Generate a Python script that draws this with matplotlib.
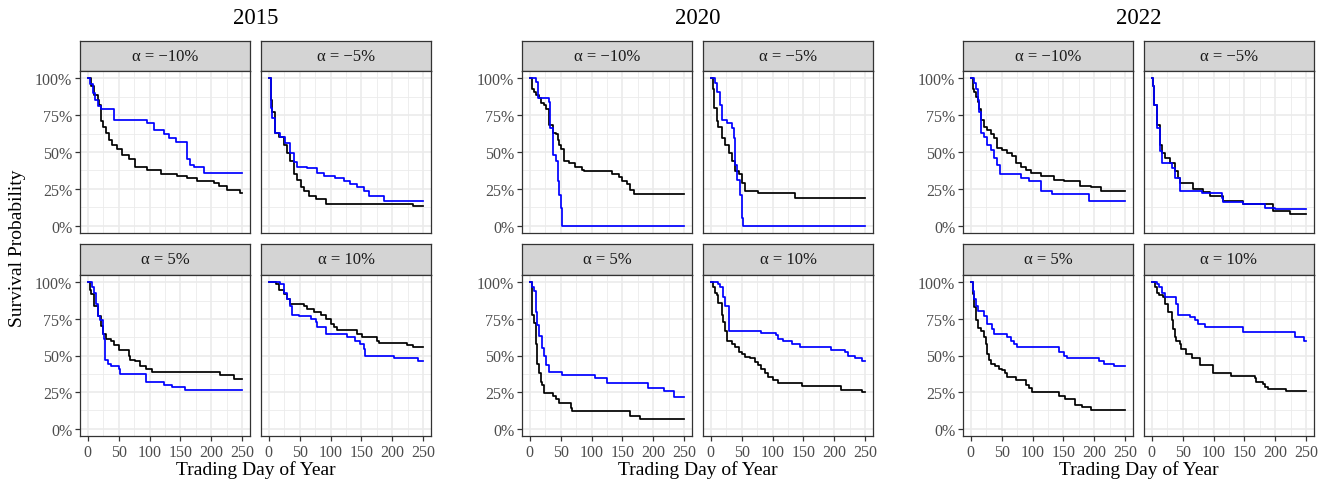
import matplotlib
matplotlib.use("Agg")
import matplotlib.pyplot as plt
from matplotlib.ticker import FixedLocator

plt.rcParams['font.family'] = ['Liberation Serif', 'DejaVu Serif']

# ---------------- data ----------------
years = ["2015", "2020", "2022"]
alpha_labels = ["α = −10%", "α = −5%", "α = 5%", "α = 10%"]
x_ticks = [0, 50, 100, 150, 200, 250]
y_ticks = [0, 25, 50, 75, 100]
y_tick_labels = ["0%", "25%", "50%", "75%", "100%"]

# (trading day, survival %) step points; black and blue series
s2015_m10_black = [(1,100),(6,95),(10,89),(16,85),(18,82),(21,71),(24,67),(29,63),(34,58),(40,55),(48,52),(56,48),(67,45),(77,40),(96,38),(118,35),(145,33.5),(161,32.5),(177,30),(204,29),(212,27),(225,24),(247,22),(250,22)]
s2015_m10_blue = [(1,100),(4,96),(8,90),(12,85),(17,81),(21,79),(42,72),(96,70),(107,65),(123,62),(131,59.5),(142,57),(161,45),(166,41),(172,40),(188,36),(250,36)]
s2015_m5_black = [(1,100),(3,85),(5,77),(10,63),(17,60),(25,55),(30,49),(34,44),(41,35),(46,31),(52,26),(57,23.5),(65,20),(76,18),(92,15),(233,13),(250,13)]
s2015_m5_blue = [(1,100),(3,80),(6,73),(10,63),(19,60),(27,56),(35,49),(41,43),(46,40),(62,39),(78,36),(89,33.5),(108,32.5),(121,30),(132,28),(143,26),(154,23.5),(162,20),(186,16.5),(250,16.5)]
s2015_p5_black = [(1,100),(3,95),(5,92),(10,84),(16,77),(21,70),(24,65),(29,61.5),(37,60),(42,57),(51,53.5),(67,50),(69,47),(77,46),(85,43),(94,41),(104,39),(214,37),(236,34),(250,34)]
s2015_p5_blue = [(1,100),(7,97),(10,93),(14,85),(16,77),(20,74),(24,65),(26,61.5),(28,47),(32,44.5),(37,43),(51,41),(53,37.5),(94,32),(123,30),(137,28.5),(158,26.5),(250,26.5)]
s2015_p10_black = [(1,100),(11,99),(17,95),(25,92),(30,88.5),(35,85.5),(57,84),(62,82),(73,80),(84,78),(92,75),(100,71.5),(105,69.5),(111,67.5),(143,65),(151,62.5),(175,60),(178,58.5),(224,57),(234,55.5),(250,55.5)]
s2015_p10_blue = [(1,100),(19,99),(25,93),(30,88.5),(35,84),(38,78),(49,77),(68,75),(76,73),(78,69.5),(92,65),(127,62.5),(140,60),(148,58),(154,54.7),(156,49.5),(202,48),(242,46.5),(250,46.5)]

s2020_m10_black = [(1,100),(4,93),(7,91),(10,89),(15,86.5),(18,83),(23,82),(26,79),(31,68.5),(37,63),(42,62),(45,58),(47,55),(50,52),(55,44),(63,42.5),(74,40),(85,38),(88,37),(133,35),(144,33),(149,30),(158,28),(163,24.5),(168,21.5),(250,21.5)]
s2020_m10_blue = [(1,100),(10,97.5),(13,87),(31,84),(33,66),(38,48),(42,44),(45,30),(47,21),(50,12),(53,0),(250,0)]
s2020_m5_black = [(1,100),(3,93),(5,80),(10,71),(12,67),(18,59.5),(23,55),(29,49),(34,44),(39,37),(45,35),(50,29),(55,23.5),(77,22),(136,19),(250,19)]
s2020_m5_blue = [(1,100),(7,97),(10,91),(15,82),(18,72),(26,70),(34,66),(37,59.5),(39,41.5),(42,31),(47,21),(50,5),(53,0),(250,0)]
s2020_p5_black = [(1,100),(3,92),(4,78),(7,72),(10,58),(12,44.5),(15,38),(18,32),(20,30),(23,24.5),(37,22),(42,20),(47,17.5),(66,14),(69,12),(163,8.5),(179,6.3),(250,6.3)]
s2020_p5_blue = [(1,100),(4,97),(7,94),(10,79.5),(12,70.5),(15,63),(20,55),(23,50),(26,43.5),(31,39),(53,37),(106,34.5),(125,31),(192,28),(217,25.5),(233,21.5),(250,21.5)]
s2020_p10_black = [(1,100),(3,96.5),(7,93),(10,91),(12,86),(18,78),(20,73),(23,67),(27,60),(34,58),(39,56),(45,52.5),(50,51),(55,49),(63,48),(72,45.7),(77,43.5),(82,40.5),(88,38),(93,35),(101,33.3),(109,31),(147,29),(211,26.5),(244,25),(250,25)]
s2020_p10_blue = [(1,100),(12,99),(15,96.5),(20,90),(23,84),(29,67),(82,65.5),(106,64),(109,61.5),(117,60),(131,58),(144,56),(195,53.5),(217,52.5),(222,50),(233,48),(244,46.5),(250,46.5)]

s2022_m10_black = [(1,100),(3,93),(5,91),(8,87.5),(11,84),(13,79),(16,72),(22,67),(27,65),(32,62),(38,59.5),(43,53),(51,51.5),(59,49),(67,47),(73,42.5),(81,40),(89,38),(97,36),(113,33.5),(134,31),(151,30),(177,27),(194,26),(210,23.5),(250,23.5)]
s2022_m10_blue = [(1,100),(5,97),(8,93),(11,85),(13,77.5),(16,63),(22,60.5),(27,55),(32,51.5),(38,46),(43,41.5),(48,35),(81,32.5),(94,30),(113,23.5),(132,21.5),(191,16.5),(250,16.5)]
s2022_m5_black = [(1,100),(2,95),(4,82),(8,68.5),(13,55),(17,49),(22,46),(30,42.5),(38,37),(43,32.5),(46,29),(67,25),(83,23),(94,20),(116,16.7),(148,15),(194,14.4),(196,10),(223,7.7),(250,7.7)]
s2022_m5_blue = [(1,100),(2,95),(4,82),(8,66),(13,50.5),(16,42.5),(32,39),(38,32.5),(46,23.5),(81,22),(113,19),(116,16),(148,15),(183,12),(199,11),(250,11)]
s2022_p5_black = [(1,100),(4,92),(6,83),(8,74),(11,69),(16,67),(22,62.5),(24,58),(27,51),(30,47),(32,44.5),(40,43),(46,41),(51,40),(56,38),(59,35.5),(73,33.3),(89,30),(94,28),(99,25),(142,22),(153,20.3),(169,16.5),(180,15),(194,12.5),(250,12.5)]
s2022_p5_blue = [(1,100),(4,94),(6,88.5),(8,84),(11,80.5),(22,77),(27,71.5),(35,68),(38,65),(59,62.5),(65,60),(70,58),(75,55.5),(142,52.5),(151,50),(156,48.5),(207,46.5),(215,44.5),(231,43),(250,43)]
s2022_p10_black = [(1,100),(5,96.5),(8,93),(11,91),(19,90),(22,85),(27,79.5),(32,74),(35,68),(38,62.5),(40,60),(46,58),(48,54.7),(56,51.3),(65,48),(78,43.5),(99,38),(129,36),(167,34.5),(169,32),(180,30.5),(183,28.5),(188,27),(218,25.5),(250,25.5)]
s2022_p10_blue = [(1,100),(8,99),(11,96.5),(16,93),(22,90),(40,85),(43,78),(62,76),(70,74),(75,71.5),(86,69.5),(148,66),(231,62.5),(247,60),(250,60)]

panels = {
    "2015": [(s2015_m10_black, s2015_m10_blue), (s2015_m5_black, s2015_m5_blue),
             (s2015_p5_black, s2015_p5_blue), (s2015_p10_black, s2015_p10_blue)],
    "2020": [(s2020_m10_black, s2020_m10_blue), (s2020_m5_black, s2020_m5_blue),
             (s2020_p5_black, s2020_p5_blue), (s2020_p10_black, s2020_p10_blue)],
    "2022": [(s2022_m10_black, s2022_m10_blue), (s2022_m5_black, s2022_m5_blue),
             (s2022_p5_black, s2022_p5_blue), (s2022_p10_black, s2022_p10_blue)],
}

# ---------------- layout ----------------
W, H = 1325, 485
fig = plt.figure(figsize=(W / 100, H / 100), dpi=100)
fig.patch.set_facecolor("white")

def px_axes(x0, y0, x1, y1):
    return fig.add_axes([x0 / W, 1 - y1 / H, (x1 - x0) / W, (y1 - y0) / H])

group_left = [80, 522, 963]
panel_w = 170
col_step = 181
rows = [  # (strip top, strip bottom/panel top, panel bottom)
    (42, 72, 234),
    (245, 276, 437),
]
BORDER = "#333333"
GRID = "#EBEBEB"
TICKLAB = "#4D4D4D"

for g, year in enumerate(years):
    gx = group_left[g]
    for k in range(4):
        r, c = divmod(k, 2)
        x0 = gx + c * col_step
        x1 = x0 + panel_w
        st, pt, pb = rows[r]
        # strip
        sax = px_axes(x0, st, x1, pt)
        sax.set_facecolor("#D4D4D4")
        sax.set_xticks([]); sax.set_yticks([])
        for sp in sax.spines.values():
            sp.set_color(BORDER); sp.set_linewidth(0.9)
        sax.text(0.5, 0.5, alpha_labels[k], ha="center", va="center",
                 fontsize=12, color="#1A1A1A", transform=sax.transAxes)
        # panel
        ax = px_axes(x0, pt, x1, pb)
        ax.set_facecolor("white")
        ax.set_xlim(-12.5, 262.5)
        ax.set_ylim(-5, 105)
        ax.xaxis.set_major_locator(FixedLocator(x_ticks))
        ax.xaxis.set_minor_locator(FixedLocator([25, 75, 125, 175, 225]))
        ax.yaxis.set_major_locator(FixedLocator(y_ticks))
        ax.yaxis.set_minor_locator(FixedLocator([12.5, 37.5, 62.5, 87.5]))
        ax.grid(which="major", color=GRID, linewidth=1.2)
        ax.grid(which="minor", color=GRID, linewidth=0.6)
        ax.set_axisbelow(True)
        for sp in ax.spines.values():
            sp.set_color(BORDER); sp.set_linewidth(0.9)
        ax.tick_params(which="minor", length=0)
        ax.tick_params(which="major", length=3.5, width=0.9, color=BORDER,
                       labelsize=11.5, labelcolor=TICKLAB, pad=2)
        if r == 1:
            ax.set_xticklabels([str(v) for v in x_ticks])
        else:
            ax.tick_params(axis="x", length=0, labelbottom=False)
        if c == 0:
            ax.set_yticklabels(y_tick_labels)
        else:
            ax.tick_params(axis="y", length=0, labelleft=False)
        black, blue = panels[year][k]
        for series, col in ((black, "black"), (blue, "#0000FF")):
            xs = [p[0] for p in series]
            ys = [p[1] for p in series]
            ax.step(xs, ys, where="post", color=col, linewidth=1.25)
    cx = (gx + gx + col_step + panel_w) / 2
    fig.text(cx / W, 1 - 18 / H, year, ha="center", va="center", fontsize=16.5)
    fig.text(cx / W, 1 - 470 / H, "Trading Day of Year", ha="center", va="center", fontsize=14)

fig.text(18 / W, 1 - 248 / H, "Survival Probability", ha="center", va="center",
         rotation=90, fontsize=14)

fig.savefig("out.png", dpi=100)
